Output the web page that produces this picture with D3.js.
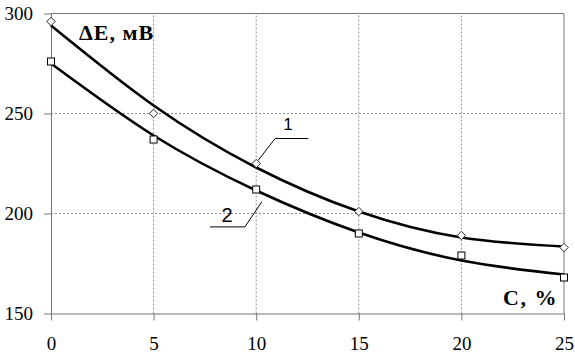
<!DOCTYPE html>
<html>
<head>
<meta charset="utf-8">
<script src="https://cdn.jsdelivr.net/npm/d3@7"></script>
<style>
body { margin: 0; background: #fff; }
svg { display: block; }
.tick text { font-family: "Liberation Serif", "Times New Roman", serif; font-size: 19px; fill: #000; }
</style>
</head>
<body>
<svg id="svg" width="575" height="357"></svg>
<script>
// data
var concentration = [0, 5, 10, 15, 20, 25];
var series1 = [296, 250, 225, 201, 189, 183];   // diamonds, curve 1
var series2 = [276, 237, 212, 190, 179, 168];   // squares, curve 2
var trend1 = [294, 254, 223, 201, 188, 183.5];
var trend2 = [275, 239, 211.5, 190.5, 176.5, 169.5];
var xTicks = [0, 5, 10, 15, 20, 25];
var yTicks = [150, 200, 250, 300];

var svg = d3.select("#svg");

var padLeft = 51, padTop = 13.5;
var w = 513, h = 300;

var xScale = d3.scaleLinear()
    .domain([0, 25])
    .range([padLeft, padLeft + w]);

var yScale = d3.scaleLinear()
    .domain([150, 300])
    .range([padTop + h, padTop]);

//grid
svg.append("g")
    .selectAll("line")
    .data([5, 10, 15, 20])
    .enter()
    .append("line")
    .attr("x1", function(d) { return xScale(d); })
    .attr("x2", function(d) { return xScale(d); })
    .attr("y1", yScale(150))
    .attr("y2", yScale(300))
    .attr("stroke", "#8c8c8c")
    .attr("stroke-width", 1)
    .attr("stroke-dasharray", "2,2");

svg.append("g")
    .selectAll("line")
    .data([200, 250])
    .enter()
    .append("line")
    .attr("x1", xScale(0))
    .attr("x2", xScale(25))
    .attr("y1", function(d) { return yScale(d); })
    .attr("y2", function(d) { return yScale(d); })
    .attr("stroke", "#8c8c8c")
    .attr("stroke-width", 1)
    .attr("stroke-dasharray", "2,2");

// top and right border
svg.append("path")
    .attr("d", "M" + xScale(0) + "," + yScale(300) + "H" + xScale(25) + "V" + yScale(150))
    .attr("fill", "none")
    .attr("stroke", "#777")
    .attr("stroke-width", 1);

//Axes
var xAxis = svg.append("g")
    .attr("transform", "translate(0," + yScale(150) + ")")
    .call(d3.axisBottom(xScale).tickValues(xTicks).tickSize(7).tickSizeOuter(0));
xAxis.selectAll("text").attr("y", 23);

var yAxis = svg.append("g")
    .attr("transform", "translate(" + xScale(0) + ",0)")
    .call(d3.axisLeft(yScale).tickValues(yTicks).tickSize(7).tickPadding(11).tickSizeOuter(0));

svg.selectAll(".domain").attr("stroke", "#777");
svg.selectAll(".tick line").attr("stroke", "#777");

//curves
var line = d3.line()
    .x(function(d, i) { return xScale(concentration[i]); })
    .y(function(d) { return yScale(d); })
    .curve(d3.curveNatural);

[trend1, trend2].forEach(function(t) {
    svg.append("path")
        .datum(t)
        .attr("d", line)
        .attr("fill", "none")
        .attr("stroke", "#000")
        .attr("stroke-width", 2.6);
});

//markers
svg.append("g")
    .selectAll("path")
    .data(series1)
    .enter()
    .append("path")
    .attr("transform", function(d, i) { return "translate(" + xScale(concentration[i]) + "," + yScale(d) + ")"; })
    .attr("d", "M0,-4.2L4.2,0L0,4.2L-4.2,0Z")
    .attr("fill", "#fff")
    .attr("stroke", "#222")
    .attr("stroke-width", 1);

svg.append("g")
    .selectAll("rect")
    .data(series2)
    .enter()
    .append("rect")
    .attr("x", function(d, i) { return xScale(concentration[i]) - 3.5; })
    .attr("y", function(d) { return yScale(d) - 3.5; })
    .attr("width", 7)
    .attr("height", 7)
    .attr("fill", "#fff")
    .attr("stroke", "#000")
    .attr("stroke-width", 1);

//leaders and curve numbers
var leader = d3.line()
    .x(function(d) { return xScale(d[0]); })
    .y(function(d) { return yScale(d[1]); });

svg.append("path")
    .datum([[10.1, 226.6], [10.92, 237.5], [12.54, 237.5]])
    .attr("d", leader)
    .attr("fill", "none")
    .attr("stroke", "#000")
    .attr("stroke-width", 1);

svg.append("path")
    .datum([[7.75, 193.3], [9.45, 193.3], [10.27, 205.8]])
    .attr("d", leader)
    .attr("fill", "none")
    .attr("stroke", "#000")
    .attr("stroke-width", 1);

svg.append("text")
    .attr("x", xScale(11.55))
    .attr("y", yScale(242))
    .style("text-anchor", "middle")
    .style("font-family", "'Liberation Sans', Arial, sans-serif")
    .style("font-size", "17px")
    .text("1");

svg.append("text")
    .attr("x", xScale(8.58))
    .attr("y", yScale(196))
    .style("text-anchor", "middle")
    .style("font-family", "'Liberation Sans', Arial, sans-serif")
    .style("font-size", "20px")
    .text("2");

//axis titles
svg.append("text")
    .attr("x", 79)
    .attr("y", 40)
    .style("font-family", "'Liberation Serif', 'Times New Roman', serif")
    .style("font-weight", "bold")
    .style("font-size", "22px")
    .style("letter-spacing", "1px")
    .text("ΔE, мВ");

svg.append("text")
    .attr("x", 558)
    .attr("y", 305)
    .style("text-anchor", "end")
    .style("font-family", "'Liberation Serif', 'Times New Roman', serif")
    .style("font-weight", "bold")
    .style("font-size", "22px")
    .style("letter-spacing", "1.5px")
    .text("C, %");
</script>
</body>
</html>
